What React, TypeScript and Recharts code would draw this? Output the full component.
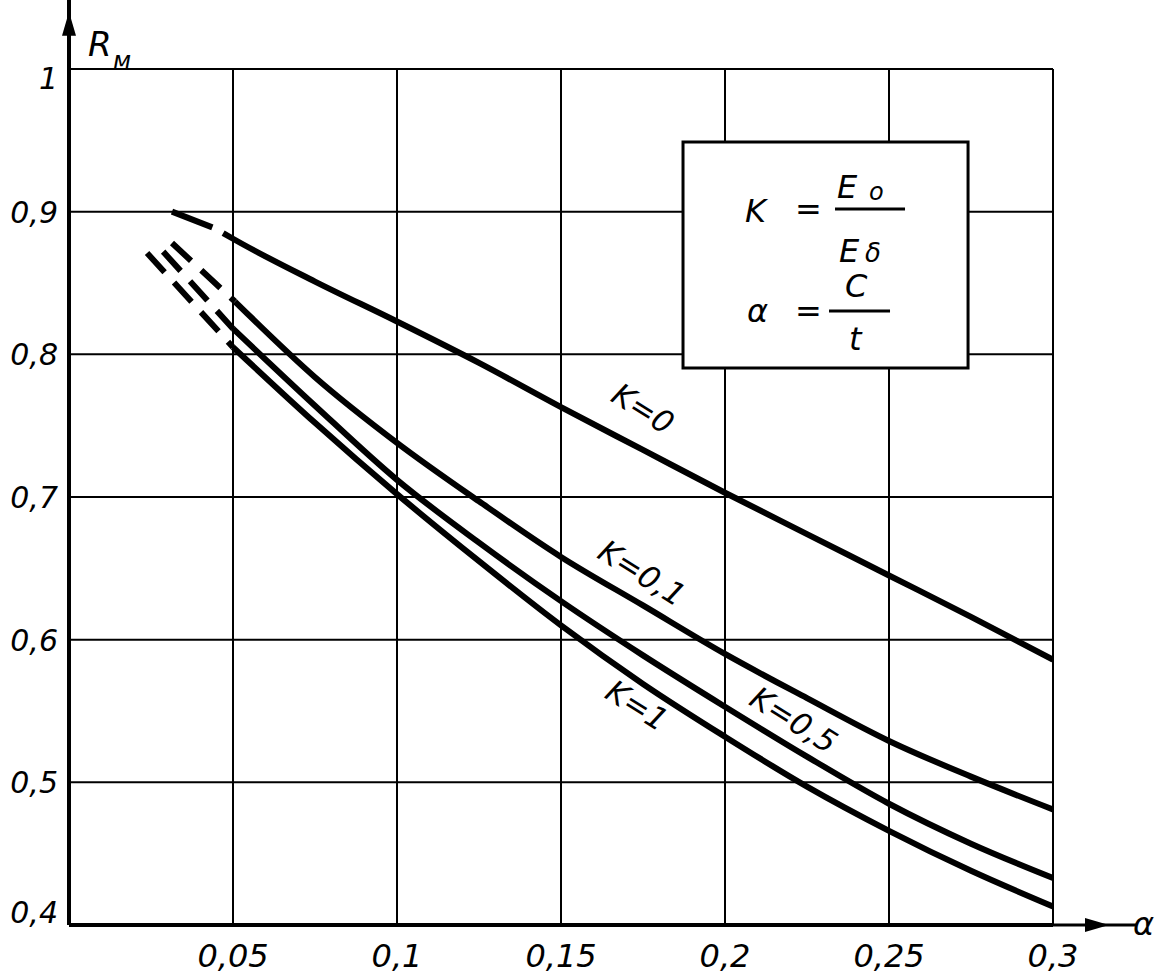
import React from "react";
import {
  LineChart,
  Line,
  XAxis,
  YAxis,
  CartesianGrid,
  ReferenceLine,
  ReferenceDot,
  ReferenceArea,
} from "recharts";

// alpha = c / t along the bottom, R_m up the side
const alphaTicks = [0.05, 0.1, 0.15, 0.2, 0.25, 0.3];
const alphaTickLabels = ["0,05", "0,1", "0,15", "0,2", "0,25", "0,3"];
const rTicks = [0.4, 0.5, 0.6, 0.7, 0.8, 0.9, 1];
const rTickLabels = ["0,4", "0,5", "0,6", "0,7", "0,8", "0,9", "1"];

// solid parts of the curves
const alphaK0 = [0.047, 0.05, 0.075, 0.1, 0.125, 0.15, 0.175, 0.2, 0.225, 0.25, 0.275, 0.3];
const rK0 = [0.885, 0.881, 0.851, 0.823, 0.794, 0.763, 0.733, 0.703, 0.674, 0.645, 0.616, 0.586];

const alphaK01 = [0.0506, 0.075, 0.1, 0.125, 0.15, 0.175, 0.2, 0.225, 0.25, 0.275, 0.3];
const rK01 = [0.837, 0.784, 0.738, 0.697, 0.658, 0.624, 0.59, 0.559, 0.529, 0.504, 0.481];

const alphaLow = [0.05, 0.075, 0.1, 0.125, 0.15, 0.175, 0.2, 0.225, 0.25, 0.275, 0.3];
const rK05 = [0.818, 0.764, 0.712, 0.668, 0.627, 0.589, 0.553, 0.518, 0.485, 0.457, 0.433];
const rK1 = [0.805, 0.752, 0.702, 0.655, 0.61, 0.569, 0.532, 0.497, 0.466, 0.438, 0.413];

// dashed extrapolations at the left end
const alphaK0Dash = [0.0314, 0.0437];
const rK0Dash = [0.9, 0.889];
const alphaK01Dash = [0.0314, 0.0506];
const rK01Dash = [0.878, 0.837];
const alphaK05Dash = [0.0287, 0.05];
const rK05Dash = [0.872, 0.818];
const alphaK1Dash = [0.0238, 0.05];
const rK1Dash = [0.871, 0.805];

// curve captions
const curveLabels = ["K=0", "K=0,1", "K=0,5", "K=1"];
const curveLabelAlpha = [0.175, 0.1747, 0.221, 0.1732];
const curveLabelR = [0.762, 0.6468, 0.5438, 0.554];

const zip = (xs: number[], ys: number[]) => xs.map((x, i) => ({ x, y: ys[i] }));

const font = "'DejaVu Sans', sans-serif";

const YTick = (props: any) => {
  const { x, y, payload } = props;
  const i = rTicks.indexOf(payload.value);
  const dy = payload.value === 0.4 ? -2 : payload.value === 1 ? 20 : 11;
  return (
    <text x={x} y={y + dy} textAnchor="end" fontFamily={font} fontStyle="italic" fontSize={30} fill="#000">
      {rTickLabels[i]}
    </text>
  );
};

const XTick = (props: any) => {
  const { x, y, payload } = props;
  const i = alphaTicks.indexOf(payload.value);
  return (
    <text x={x} y={y + 42} textAnchor="middle" fontFamily={font} fontStyle="italic" fontSize={32} fill="#000">
      {alphaTickLabels[i]}
    </text>
  );
};

const lineProps = {
  type: "monotone" as const,
  dataKey: "y",
  stroke: "#000",
  strokeWidth: 6,
  dot: false,
  activeDot: false,
  isAnimationActive: false,
};

export default function App() {
  return (
    <div style={{ position: "absolute", left: 0, top: 0, background: "#fff" }}>
      <LineChart width={1161} height={977} margin={{ top: 69, right: 108, bottom: 0, left: 0 }}>
        <CartesianGrid stroke="#000" strokeWidth={2} />
        <XAxis
          dataKey="x"
          type="number"
          domain={[0, 0.3]}
          ticks={alphaTicks}
          height={52}
          tickSize={0}
          tickMargin={0}
          tickLine={false}
          axisLine={{ stroke: "#000", strokeWidth: 4 }}
          tick={<XTick />}
          allowDataOverflow
        />
        <YAxis
          type="number"
          domain={[0.4, 1]}
          ticks={rTicks}
          width={69}
          tickSize={0}
          tickMargin={11}
          tickLine={false}
          axisLine={{ stroke: "#000", strokeWidth: 4 }}
          tick={<YTick />}
          allowDataOverflow
        />

        {/* axis extensions with arrows */}
        <ReferenceLine
          segment={[{ x: 0, y: 1 }, { x: 0, y: 1.05 }]}
          stroke="#000"
          strokeWidth={4}
          ifOverflow="visible"
        />
        <ReferenceLine
          segment={[{ x: 0.3, y: 0.4 }, { x: 0.3255, y: 0.4 }]}
          stroke="#000"
          strokeWidth={3}
          ifOverflow="visible"
        />
        <ReferenceDot
          x={0}
          y={1.05}
          ifOverflow="visible"
          shape={(p: any) => (
            <g>
              <polygon points={`${p.cx},${p.cy + 14} ${p.cx - 7},${p.cy + 38} ${p.cx + 7},${p.cy + 38}`} fill="#000" />
              <text x={p.cx + 19} y={p.cy + 58} fontFamily={font} fontStyle="italic" fontSize={34} fill="#000">
                R
              </text>
              <text x={p.cx + 44} y={p.cy + 71} fontFamily={font} fontStyle="italic" fontSize={24} fill="#000">
                м
              </text>
            </g>
          )}
        />
        <ReferenceDot
          x={0.3}
          y={0.4}
          ifOverflow="visible"
          shape={(p: any) => (
            <g>
              <polygon points={`${p.cx + 56},${p.cy} ${p.cx + 32},${p.cy - 7} ${p.cx + 32},${p.cy + 7}`} fill="#000" />
              <text x={p.cx + 80} y={p.cy + 10} fontFamily={font} fontStyle="italic" fontSize={32} fill="#000">
                α
              </text>
            </g>
          )}
        />

        {/* formula box */}
        <ReferenceArea
          x1={0.1872}
          x2={0.2741}
          y1={0.7905}
          y2={0.9488}
          fill="#fff"
          fillOpacity={1}
          stroke="#000"
          strokeWidth={3}
          ifOverflow="visible"
          label={(lp: any) => {
            const { x, y } = lp.viewBox;
            const t = { fontFamily: font, fontStyle: "italic", fontSize: 32, fill: "#000" } as any;
            return (
              <g>
                <text x={x + 62} y={y + 80} {...t}>K</text>
                <text x={x + 112} y={y + 78} {...t} fontStyle="normal">=</text>
                <line x1={x + 152} x2={x + 222} y1={y + 67} y2={y + 67} stroke="#000" strokeWidth={3} />
                <text x={x + 154} y={y + 56} {...t}>E</text>
                <text x={x + 186} y={y + 58} {...t} fontSize={24}>o</text>
                <text x={x + 156} y={y + 120} {...t}>E</text>
                <text x={x + 182} y={y + 120} {...t} fontSize={26}>δ</text>
                <text x={x + 64} y={y + 180} {...t}>α</text>
                <text x={x + 112} y={y + 180} {...t} fontStyle="normal">=</text>
                <line x1={x + 146} x2={x + 207} y1={y + 169} y2={y + 169} stroke="#000" strokeWidth={3} />
                <text x={x + 162} y={y + 155} {...t}>C</text>
                <text x={x + 166} y={y + 208} {...t}>t</text>
              </g>
            );
          }}
        />

        <Line {...lineProps} data={zip(alphaK0, rK0)} />
        <Line {...lineProps} data={zip(alphaK01, rK01)} />
        <Line {...lineProps} data={zip(alphaLow, rK05)} />
        <Line {...lineProps} data={zip(alphaLow, rK1)} />

        <Line {...lineProps} type="linear" data={zip(alphaK0Dash, rK0Dash)} />
        <Line {...lineProps} type="linear" strokeDasharray="26 14" data={zip(alphaK01Dash, rK01Dash)} />
        <Line {...lineProps} type="linear" strokeDasharray="26 14" data={zip(alphaK05Dash, rK05Dash)} />
        <Line {...lineProps} type="linear" strokeDasharray="26 14" data={zip(alphaK1Dash, rK1Dash)} />

        {curveLabels.map((lab, i) => (
          <ReferenceDot
            key={lab}
            x={curveLabelAlpha[i]}
            y={curveLabelR[i]}
            ifOverflow="visible"
            shape={(p: any) => (
              <text
                x={p.cx}
                y={p.cy + 11}
                textAnchor="middle"
                transform={`rotate(32, ${p.cx}, ${p.cy})`}
                fontFamily={font}
                fontStyle="italic"
                fontSize={31}
                fill="#000"
              >
                {lab}
              </text>
            )}
          />
        ))}
      </LineChart>
    </div>
  );
}
